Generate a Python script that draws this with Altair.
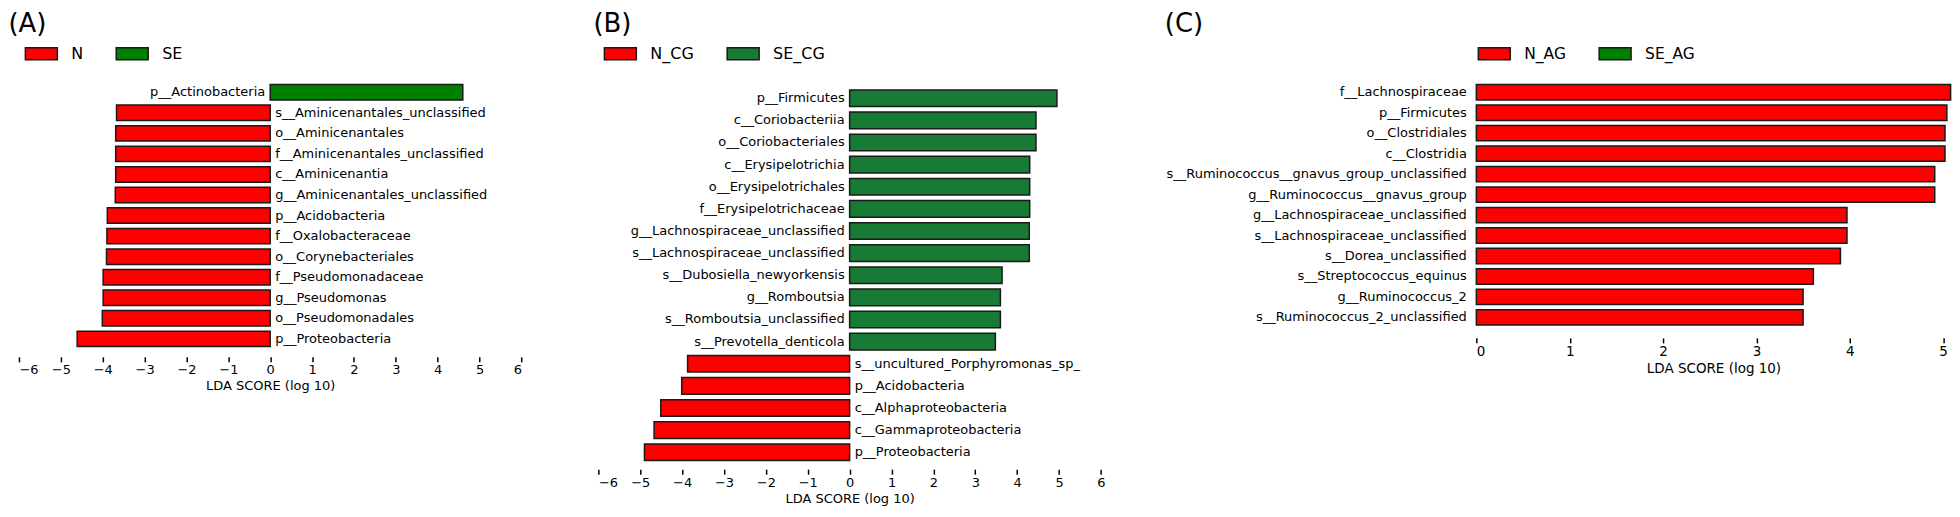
import altair as alt
import pandas as pd

# ---------------- Panel A ----------------
a_names = ["p__Actinobacteria", "s__Aminicenantales_unclassified", "o__Aminicenantales",
           "f__Aminicenantales_unclassified", "c__Aminicenantia", "g__Aminicenantales_unclassified",
           "p__Acidobacteria", "f__Oxalobacteraceae", "o__Corynebacteriales", "f__Pseudomonadaceae",
           "g__Pseudomonas", "o__Pseudomonadales", "p__Proteobacteria"]
a_scores = [4.60, -3.67, -3.69, -3.69, -3.69, -3.70, -3.89, -3.90, -3.91, -3.99, -3.99, -4.01, -4.61]
a_groups = ["SE", "N", "N", "N", "N", "N", "N", "N", "N", "N", "N", "N", "N"]
a_legend = ["N", "SE"]
a_ticks = [-6, -5, -4, -3, -2, -1, 0, 1, 2, 3, 4, 5, 6]

# ---------------- Panel B ----------------
b_names = ["p__Firmicutes", "c__Coriobacteriia", "o__Coriobacteriales", "c__Erysipelotrichia",
           "o__Erysipelotrichales", "f__Erysipelotrichaceae", "g__Lachnospiraceae_unclassified",
           "s__Lachnospiraceae_unclassified", "s__Dubosiella_newyorkensis", "g__Romboutsia",
           "s__Romboutsia_unclassified", "s__Prevotella_denticola", "s__uncultured_Porphyromonas_sp_",
           "p__Acidobacteria", "c__Alphaproteobacteria", "c__Gammaproteobacteria", "p__Proteobacteria"]
b_scores = [4.95, 4.45, 4.45, 4.30, 4.30, 4.30, 4.29, 4.29, 3.64, 3.60, 3.60, 3.48,
            -3.87, -4.01, -4.51, -4.67, -4.90]
b_groups = ["SE_CG"] * 12 + ["N_CG"] * 5
b_legend = ["N_CG", "SE_CG"]
b_ticks = [-6, -5, -4, -3, -2, -1, 0, 1, 2, 3, 4, 5, 6]

# ---------------- Panel C ----------------
c_names = ["f__Lachnospiraceae", "p__Firmicutes", "o__Clostridiales", "c__Clostridia",
           "s__Ruminococcus__gnavus_group_unclassified", "g__Ruminococcus__gnavus_group",
           "g__Lachnospiraceae_unclassified", "s__Lachnospiraceae_unclassified", "s__Dorea_unclassified",
           "s__Streptococcus_equinus", "g__Ruminococcus_2", "s__Ruminococcus_2_unclassified"]
c_scores = [5.08, 5.04, 5.02, 5.02, 4.91, 4.91, 3.97, 3.97, 3.90, 3.61, 3.50, 3.50]
c_groups = ["N_AG"] * 12
c_legend = ["N_AG", "SE_AG"]
c_ticks = [0, 1, 2, 3, 4, 5]

RED = "#FF0000"
GREEN = "#008000"
GREEN_B = "#177A35"
EDGE = "#1a1a1a"
FONT = "DejaVu Sans"
RECT = "M-1,-0.375H1V0.375H-1Z"
TITLE_OFFSET = -21.5
LEGEND_Y = -44.5


def legend(x, size):
    return alt.Legend(title=None, orient="none", legendX=x, legendY=LEGEND_Y,
                      direction="horizontal", symbolType=RECT, symbolSize=1024,
                      symbolStrokeColor=EDGE, symbolStrokeWidth=1.5, symbolOpacity=1,
                      labelFont=FONT, labelFontSize=size, labelColor="#000", labelOffset=13,
                      columnPadding=30, padding=0)


def xaxis(ticks, size, offset, title_x=None):
    kw = dict(values=ticks, domain=False, grid=False, tickSize=5, tickWidth=1.5,
              tickColor="#000", labelFont=FONT, labelFontSize=size, labelColor="#000",
              labelPadding=2, title="LDA SCORE (log 10)", titleFont=FONT,
              titleFontSize=size, titleFontWeight="normal", titleColor="#000",
              titlePadding=3, offset=offset, format="d")
    if title_x is not None:
        kw["titleX"] = title_x
    return alt.Axis(**kw)


def panel_title(text, dx):
    return alt.Title(text, anchor="start", frame="group", fontSize=26, font=FONT,
                     fontWeight="normal", color="#000", dx=dx, offset=TITLE_OFFSET,
                     baseline="alphabetic")


def split_panel(names, scores, groups, legend_dom, colors, ticks, domain, width, height,
                pouter, title, title_dx, leg_x, axis_offset, title_x=None):
    df = pd.DataFrame({"name": names, "score": scores, "group": groups})
    base = alt.Chart(df)
    y = alt.Y("name:N", axis=None,
              scale=alt.Scale(domain=names, paddingInner=0.25, paddingOuter=pouter))
    bars = base.mark_bar(stroke=EDGE, strokeWidth=1.5).encode(
        x=alt.X("score:Q", scale=alt.Scale(domain=domain, nice=False),
                axis=xaxis(ticks, 13, axis_offset, title_x)),
        y=y,
        color=alt.Color("group:N", scale=alt.Scale(domain=legend_dom, range=colors),
                        legend=legend(leg_x, 16)),
    )
    pos_txt = base.transform_filter(alt.datum.score > 0).mark_text(
        align="right", baseline="middle", dx=-5, font=FONT, fontSize=13, color="#000"
    ).encode(x=alt.datum(0), y=y, text="name:N")
    neg_txt = base.transform_filter(alt.datum.score < 0).mark_text(
        align="left", baseline="middle", dx=5, font=FONT, fontSize=13, color="#000"
    ).encode(x=alt.datum(0), y=y, text="name:N")
    return alt.layer(bars, pos_txt, neg_txt).properties(
        width=width, height=height, title=panel_title(title, title_dx))


panel_a = split_panel(a_names, a_scores, a_groups, a_legend, [RED, GREEN], a_ticks,
                      [-6, 6], 503.2, 269, 0.159, "(A)", -10.6, 5.4, 7)
panel_b = split_panel(b_names, b_scores, b_groups, b_legend, [RED, GREEN_B], b_ticks,
                      [-6, 13.137], 802.6, 388.5, 0.392, "(B)", -5, 5, 0, title_x=251.6)

dfc = pd.DataFrame({"name": c_names, "score": c_scores, "group": c_groups})
panel_c = alt.Chart(dfc).mark_bar(stroke=EDGE, strokeWidth=1.5).encode(
    x=alt.X("score:Q", scale=alt.Scale(domain=[0, 5.08], nice=False),
            axis=xaxis(c_ticks, 13.5, 9.5)),
    y=alt.Y("name:N", scale=alt.Scale(domain=c_names, paddingInner=0.25, paddingOuter=0.1616),
            axis=alt.Axis(title=None, domain=False, ticks=False, labelFont=FONT,
                          labelFontSize=13, labelColor="#000", labelPadding=10,
                          labelLimit=0)),
    color=alt.Color("group:N", scale=alt.Scale(domain=c_legend, range=[RED, GREEN]),
                    legend=legend(1, 15.5)),
).properties(width=475, height=247.5, title=panel_title("(C)", -312))

chart = alt.hconcat(panel_a, panel_b, panel_c, spacing=76.3, bounds="flush").resolve_scale(
    color="independent", x="independent", y="independent"
).resolve_legend(color="independent").properties(
    padding={"left": 0, "top": 3, "right": 0, "bottom": 0}, background="white"
).configure_view(stroke=None)

chart.save("out.html", embed_options={"renderer": "svg", "actions": False})
